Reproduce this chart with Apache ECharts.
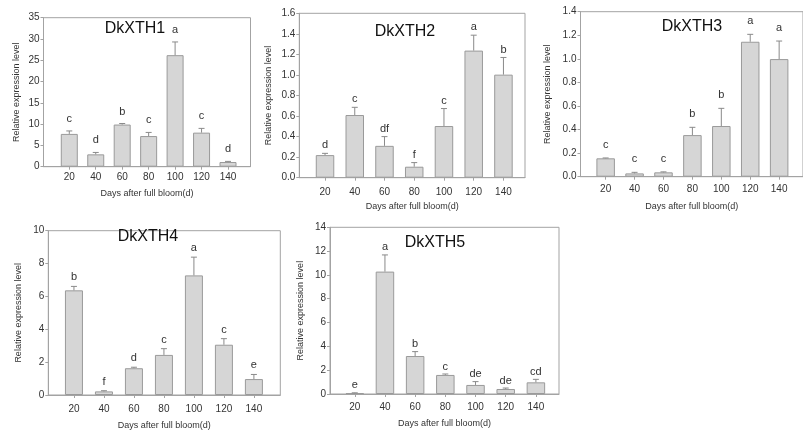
<!DOCTYPE html>
<html>
<head>
<meta charset="utf-8">
<script src="https://cdn.jsdelivr.net/npm/echarts@6/dist/echarts.min.js"></script>
<style>html,body{margin:0;padding:0;background:#fff}#c{width:803px;height:431px}</style>
</head>
<body>
<div id="c"></div>
<script>
// ---- data ----
const days = [20, 40, 60, 80, 100, 120, 140];
const names = ['DkXTH1', 'DkXTH2', 'DkXTH3', 'DkXTH4', 'DkXTH5'];
const xth1Mean = [7.7, 2.9, 9.9, 7.2, 26.2, 8.0, 1.1];
const xth1Sd   = [0.7, 0.45, 0.25, 0.85, 3.1, 1.0, 0.15];
const xth1Sig  = ['c', 'd', 'b', 'c', 'a', 'c', 'd'];
const xth2Mean = [0.22, 0.61, 0.31, 0.107, 0.503, 1.237, 1.003];
const xth2Sd   = [0.017, 0.075, 0.09, 0.04, 0.17, 0.15, 0.167];
const xth2Sig  = ['d', 'c', 'df', 'f', 'c', 'a', 'b'];
const xth3Mean = [0.156, 0.028, 0.037, 0.353, 0.43, 1.145, 0.998];
const xth3Sd   = [0.003, 0.009, 0.004, 0.066, 0.15, 0.063, 0.153];
const xth3Sig  = ['c', 'c', 'c', 'b', 'b', 'a', 'a'];
const xth4Mean = [6.37, 0.22, 1.63, 2.44, 7.28, 3.06, 0.97];
const xth4Sd   = [0.24, 0.04, 0.06, 0.38, 1.11, 0.37, 0.28];
const xth4Sig  = ['b', 'f', 'd', 'c', 'a', 'c', 'e'];
const xth5Mean = [0.08, 10.28, 3.19, 1.6, 0.76, 0.42, 0.98];
const xth5Sd   = [0.02, 1.4, 0.37, 0.08, 0.28, 0.08, 0.25];
const xth5Sig  = ['e', 'a', 'b', 'c', 'de', 'de', 'cd'];
const yTicks = [[0, 35, 5], [0, 1.6, 0.2], [0, 1.4, 0.2], [0, 10, 2], [0, 14, 2]];
const xTitle = 'Days after full bloom(d)';
const yTitle = 'Relative expression level';

// ---- layout / style ----
const FONT = '"Liberation Sans", Arial, sans-serif';
const AX = '#a3a3a3';
const panels = [
  {mean: xth1Mean, sd: xth1Sd, sig: xth1Sig, grid: {left: 43.5, top: 17.7, width: 207, height: 149},
   xmin: 0.5, xmax: 157, bw: 17, lblM: 6, xGap: 22, yGap: 22, sigOff: 12, title: [135, 29], dec: 0},
  {mean: xth2Mean, sd: xth2Sd, sig: xth2Sig, grid: {left: 299.3, top: 13.3, width: 225.7, height: 164.4},
   xmin: 2.7, xmax: 154.5, bw: 18.5, lblM: 10, xGap: 24, yGap: 26, sigOff: 8, title: [405, 32], dec: 1},
  {mean: xth3Mean, sd: xth3Sd, sig: xth3Sig, grid: {left: 580.5, top: 11.7, width: 230, height: 165},
   xmin: 2.6, xmax: 156.5, bw: 18.5, lblM: 8, xGap: 25, yGap: 28, sigOff: 13, title: [692, 27], dec: 1},
  {mean: xth4Mean, sd: xth4Sd, sig: xth4Sig, grid: {left: 48.3, top: 230.7, width: 232, height: 165.3},
   xmin: 2.9, xmax: 157.6, bw: 18, lblM: 9, xGap: 26, yGap: 25, sigOff: 9, title: [148, 237], dec: 0},
  {mean: xth5Mean, sd: xth5Sd, sig: xth5Sig, grid: {left: 330, top: 227.3, width: 229, height: 166.7},
   xmin: 3.6, xmax: 155.3, bw: 18.5, lblM: 8, xGap: 25.5, yGap: 25, sigOff: 7.5, title: [435, 243], dec: 0}
];

const grid = [], xAxis = [], yAxis = [], series = [], graphic = [];
panels.forEach((p, i) => {
  grid.push(Object.assign({show: true, borderColor: AX, borderWidth: 1, backgroundColor: 'transparent'}, p.grid));
  xAxis.push({
    type: 'value', gridIndex: i, min: p.xmin, max: p.xmax,
    name: xTitle, nameLocation: 'middle', nameGap: p.xGap,
    nameTextStyle: {fontFamily: FONT, fontSize: 9, color: '#333'},
    axisLine: {lineStyle: {color: AX}},
    axisTick: {customValues: days, length: 3, lineStyle: {color: AX}},
    axisLabel: {customValues: days, margin: p.lblM, fontFamily: FONT, fontSize: 10, color: '#333'},
    splitLine: {show: false}
  });
  const yt = yTicks[i];
  yAxis.push({
    type: 'value', gridIndex: i, min: yt[0], max: yt[1], interval: yt[2],
    name: yTitle, nameLocation: 'middle', nameGap: p.yGap, nameRotate: 90,
    nameTextStyle: {fontFamily: FONT, fontSize: 9, color: '#333'},
    axisLine: {show: true, lineStyle: {color: AX}},
    axisTick: {show: true, length: 3, lineStyle: {color: AX}},
    axisLabel: {margin: 4, fontFamily: FONT, fontSize: 10, color: '#333',
      formatter: v => v.toFixed(p.dec)},
    splitLine: {show: false}
  });
  series.push({
    type: 'bar', xAxisIndex: i, yAxisIndex: i, barWidth: p.bw,
    data: days.map((d, k) => [d, p.mean[k]]),
    itemStyle: {color: '#d6d6d6', borderColor: '#9a9a9a', borderWidth: 1},
    z: 2
  });
  series.push({
    type: 'custom', xAxisIndex: i, yAxisIndex: i, z: 5,
    data: days.map((d, k) => [d, p.mean[k] + p.sd[k], p.mean[k], k]),
    renderItem: function (params, api) {
      const top = api.coord([api.value(0), api.value(1)]);
      const base = api.coord([api.value(0), api.value(2)]);
      const k = api.value(3);
      return {
        type: 'group',
        children: [
          {type: 'line', shape: {x1: top[0], y1: top[1], x2: base[0], y2: base[1]},
           style: {stroke: '#8a8a8a', lineWidth: 1}},
          {type: 'line', shape: {x1: top[0] - 3, y1: top[1], x2: top[0] + 3, y2: top[1]},
           style: {stroke: '#8a8a8a', lineWidth: 1}},
          {type: 'text', x: top[0], y: top[1] - p.sigOff,
           style: {text: p.sig[k], fill: '#333', font: '11px ' + FONT,
                   align: 'center', verticalAlign: 'middle', textAlign: 'center', textVerticalAlign: 'middle'}}
        ]
      };
    }
  });
  graphic.push({
    type: 'text', x: p.title[0], y: p.title[1], z: 10,
    style: {text: names[i], fill: '#111', font: '16px ' + FONT,
            align: 'center', verticalAlign: 'middle', textAlign: 'center', textVerticalAlign: 'middle'}
  });
});

const chart = echarts.init(document.getElementById('c'), null, {renderer: 'canvas'});
chart.setOption({animation: false, backgroundColor: '#fff', grid, xAxis, yAxis, series, graphic});
</script>
</body>
</html>
